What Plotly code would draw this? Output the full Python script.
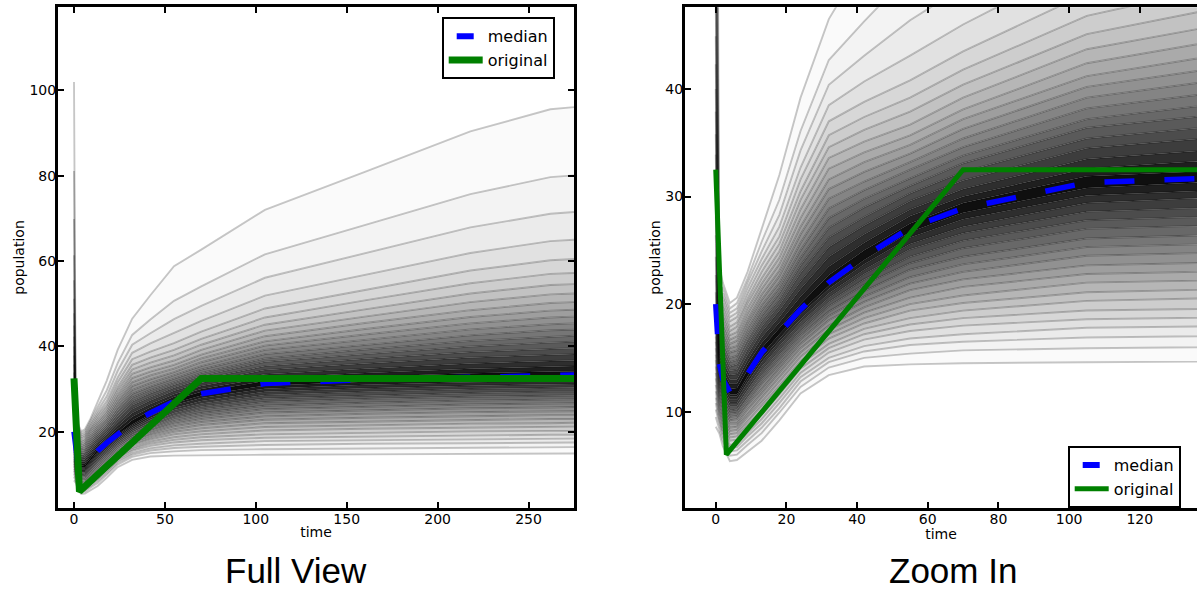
import plotly.graph_objects as go

# ---------------- data ----------------
time_pts = [0, 1, 2, 4, 6, 9, 13, 18, 24, 32, 42, 55, 70, 105, 160, 218, 262, 275]

median_pop = [20.0, 14.5, 13.0, 11.8, 11.8, 13.5, 15.5, 17.4, 19.5, 22.0,
              24.4, 27.1, 28.9, 31.3, 32.2, 32.9, 33.2, 33.3]

# quantile curves above the median (one row per time point, inner -> outer)
upper_q = [
    [21.1, 22.7, 24.4, 26.4, 28.2, 30.2, 32.0, 33.9, 35.8, 37.9, 40.0, 42.3, 44.9, 47.8, 51.2, 55.5, 61.4, 69.9, 81.1, 102.0],
    [14.6, 14.8, 15.0, 15.2, 15.4, 15.6, 15.8, 16.0, 16.2, 16.5, 16.7, 17.0, 17.2, 17.6, 17.9, 18.4, 19.0, 20.0, 21.2, 23.5],
    [13.4, 13.8, 14.3, 14.7, 15.2, 15.6, 16.1, 16.5, 17.0, 17.4, 17.9, 18.3, 18.8, 19.2, 19.7, 20.1, 20.6, 21.0, 21.5, 22.0],
    [12.1, 12.6, 13.0, 13.4, 13.8, 14.2, 14.6, 15.0, 15.5, 15.9, 16.3, 16.7, 17.1, 17.5, 17.9, 18.4, 18.8, 19.2, 19.6, 20.1],
    [12.2, 12.6, 13.0, 13.5, 13.9, 14.4, 14.8, 15.2, 15.7, 16.1, 16.6, 17.0, 17.4, 17.9, 18.3, 18.8, 19.2, 19.6, 20.1, 20.6],
    [13.9, 14.4, 14.8, 15.3, 15.8, 16.3, 16.7, 17.2, 17.7, 18.2, 18.6, 19.1, 19.6, 20.1, 20.5, 21.0, 21.5, 22.0, 22.4, 23.0],
    [15.9, 16.4, 16.9, 17.4, 17.9, 18.4, 18.9, 19.4, 19.9, 20.4, 20.9, 21.4, 21.9, 22.4, 23.0, 23.6, 24.2, 24.9, 25.8, 27.0],
    [17.8, 18.3, 18.8, 19.4, 19.9, 20.4, 21.0, 21.5, 22.0, 22.6, 23.1, 23.7, 24.3, 24.9, 25.6, 26.3, 27.2, 28.3, 29.7, 32.0],
    [20.0, 20.7, 21.4, 22.1, 22.9, 23.6, 24.3, 25.0, 25.7, 26.5, 27.2, 28.0, 28.8, 29.7, 30.5, 31.6, 32.7, 34.3, 36.1, 39.2],
    [22.7, 23.5, 24.4, 25.3, 26.2, 27.1, 28.0, 28.9, 29.8, 30.7, 31.6, 32.6, 33.6, 34.6, 35.7, 37.0, 38.5, 40.4, 42.7, 46.5],
    [25.0, 25.7, 26.5, 27.3, 28.1, 29.0, 29.8, 30.6, 31.4, 32.3, 33.2, 34.1, 35.1, 36.2, 37.4, 38.8, 40.7, 43.1, 46.3, 52.0],
    [27.5, 28.2, 28.8, 29.6, 30.3, 31.0, 31.7, 32.5, 33.2, 34.0, 34.8, 35.7, 36.7, 37.9, 39.2, 40.8, 43.1, 46.4, 50.7, 58.8],
    [29.4, 30.0, 30.7, 31.5, 32.3, 33.1, 33.8, 34.6, 35.4, 36.3, 37.2, 38.1, 39.2, 40.4, 41.8, 43.5, 46.0, 49.5, 54.1, 62.7],
    [31.9, 32.6, 33.5, 34.5, 35.4, 36.4, 37.2, 38.2, 39.2, 40.2, 41.2, 42.4, 43.7, 45.1, 46.8, 48.9, 51.9, 56.1, 61.6, 72.0],
    [32.9, 33.8, 34.8, 36.0, 37.1, 38.2, 39.3, 40.4, 41.6, 42.8, 44.1, 45.5, 47.0, 48.7, 50.8, 53.3, 56.8, 61.8, 68.5, 80.9],
    [33.7, 34.8, 36.0, 37.4, 38.7, 40.0, 41.3, 42.6, 44.0, 45.4, 46.9, 48.5, 50.4, 52.4, 54.8, 57.8, 61.9, 67.9, 75.7, 90.4],
    [34.1, 35.3, 36.6, 38.1, 39.4, 40.9, 42.3, 43.8, 45.2, 46.8, 48.4, 50.2, 52.2, 54.4, 57.0, 60.2, 64.7, 71.1, 79.7, 95.6],
    [34.2, 35.4, 36.7, 38.2, 39.6, 41.1, 42.5, 43.9, 45.4, 47.0, 48.6, 50.4, 52.4, 54.6, 57.2, 60.5, 65.0, 71.5, 80.1, 96.1],
]

# quantile curves below the median (one row per time point, inner -> outer)
lower_q = [
    [19.7, 19.2, 18.7, 18.2, 17.6, 17.0, 16.5, 15.9, 15.3, 14.8, 14.2, 13.6, 13.1, 12.5, 11.9, 11.3, 10.8, 10.2, 9.5, 8.6],
    [14.3, 14.0, 13.8, 13.5, 13.1, 12.8, 12.5, 12.2, 11.8, 11.5, 11.2, 10.9, 10.5, 10.2, 9.9, 9.6, 9.2, 8.9, 8.5, 8.0],
    [12.8, 12.6, 12.3, 12.0, 11.7, 11.4, 11.1, 10.8, 10.5, 10.2, 9.8, 9.5, 9.2, 8.9, 8.6, 8.3, 8.0, 7.7, 7.3, 6.8],
    [11.6, 11.4, 11.1, 10.8, 10.5, 10.1, 9.8, 9.5, 9.2, 8.9, 8.5, 8.2, 7.9, 7.6, 7.3, 6.9, 6.6, 6.3, 5.9, 5.4],
    [11.6, 11.4, 11.1, 10.8, 10.5, 10.2, 9.9, 9.6, 9.3, 8.9, 8.6, 8.3, 8.0, 7.7, 7.4, 7.0, 6.7, 6.4, 6.0, 5.5],
    [13.3, 13.0, 12.7, 12.3, 12.0, 11.6, 11.3, 10.9, 10.6, 10.2, 9.8, 9.5, 9.1, 8.8, 8.4, 8.0, 7.7, 7.3, 6.9, 6.3],
    [15.3, 14.9, 14.6, 14.2, 13.8, 13.4, 13.0, 12.6, 12.1, 11.7, 11.3, 10.9, 10.5, 10.1, 9.7, 9.3, 8.9, 8.5, 8.0, 7.3],
    [17.2, 16.8, 16.5, 16.1, 15.7, 15.3, 14.9, 14.4, 14.0, 13.6, 13.2, 12.8, 12.4, 12.0, 11.6, 11.2, 10.8, 10.3, 9.9, 9.2],
    [19.3, 19.0, 18.6, 18.3, 17.9, 17.5, 17.1, 16.7, 16.3, 15.9, 15.5, 15.1, 14.7, 14.4, 14.0, 13.6, 13.2, 12.8, 12.3, 11.7],
    [21.7, 21.4, 21.0, 20.6, 20.2, 19.8, 19.3, 18.9, 18.5, 18.0, 17.6, 17.2, 16.8, 16.3, 15.9, 15.5, 15.0, 14.6, 14.1, 13.4],
    [24.1, 23.7, 23.2, 22.8, 22.3, 21.8, 21.2, 20.7, 20.2, 19.7, 19.2, 18.7, 18.2, 17.7, 17.2, 16.7, 16.1, 15.6, 15.0, 14.2],
    [26.7, 26.2, 25.6, 25.1, 24.4, 23.8, 23.2, 22.5, 21.9, 21.3, 20.6, 20.0, 19.4, 18.7, 18.1, 17.5, 16.8, 16.2, 15.4, 14.4],
    [28.5, 27.9, 27.2, 26.6, 25.9, 25.2, 24.4, 23.7, 23.0, 22.3, 21.6, 20.8, 20.1, 19.4, 18.7, 18.0, 17.2, 16.5, 15.7, 14.5],
    [30.8, 30.1, 29.4, 28.6, 27.8, 27.0, 26.1, 25.3, 24.5, 23.6, 22.8, 22.0, 21.1, 20.3, 19.4, 18.6, 17.8, 16.9, 15.9, 14.6],
    [31.7, 31.0, 30.2, 29.4, 28.5, 27.7, 26.8, 25.9, 25.0, 24.2, 23.3, 22.4, 21.5, 20.7, 19.8, 18.9, 18.0, 17.2, 16.1, 14.7],
    [32.4, 31.6, 30.8, 30.0, 29.1, 28.2, 27.3, 26.4, 25.5, 24.6, 23.7, 22.8, 21.9, 21.0, 20.1, 19.1, 18.2, 17.3, 16.3, 14.8],
    [32.7, 31.9, 31.1, 30.3, 29.4, 28.4, 27.5, 26.6, 25.7, 24.8, 23.9, 23.0, 22.0, 21.1, 20.2, 19.3, 18.4, 17.5, 16.4, 14.9],
    [32.8, 32.0, 31.2, 30.4, 29.4, 28.5, 27.6, 26.7, 25.8, 24.8, 23.9, 23.0, 22.1, 21.2, 20.2, 19.3, 18.4, 17.5, 16.4, 14.9],
]

orig_time = [0, 3, 70, 275]
orig_pop = [32.5, 6.0, 32.5, 32.5]

panel_titles = ["Full View", "Zoom In"]
x_ticks_full = [0, 50, 100, 150, 200, 250]
y_ticks_full = [20, 40, 60, 80, 100]
x_ticks_zoom = [0, 20, 40, 60, 80, 100, 120]
y_ticks_zoom = [10, 20, 30, 40]

# ---------------- build the curves ----------------
n_up = len(upper_q[0])
n_lo = len(lower_q[0])
curves = []
for k in range(n_lo - 1, -1, -1):
    curves.append([row[k] for row in lower_q])
for k in range(n_up):
    curves.append([row[k] for row in upper_q])
center = n_lo  # index of the band that contains the median

FONT = "DejaVu Sans"
fig = go.Figure()


def band_color(i):
    c = abs(i - center)
    frac = (n_up - c) / n_up
    dark = 0.94 * frac ** 1.3
    lv = int(round(255 * (1 - dark)))
    return f"rgb({lv},{lv},{lv})"


for (xa, ya, leg, gw) in [("x", "y", "legend", 7), ("x2", "y2", "legend2", 5)]:
    # filled bands
    for i, cv in enumerate(curves):
        fig.add_trace(go.Scatter(
            x=time_pts, y=cv, xaxis=xa, yaxis=ya, mode="lines",
            line=dict(width=0), fill="none" if i == 0 else "tonexty",
            fillcolor=band_color(i), showlegend=False, hoverinfo="skip"))
    # quantile lines (separate traces so that overlaps darken, as in the reference)
    for cv in curves:
        fig.add_trace(go.Scatter(
            x=time_pts, y=cv, xaxis=xa, yaxis=ya, mode="lines",
            line=dict(color="rgba(0,0,0,0.22)", width=1.9),
            showlegend=False, hoverinfo="skip"))
    # median
    fig.add_trace(go.Scatter(
        x=time_pts, y=median_pop, xaxis=xa, yaxis=ya, mode="lines",
        line=dict(color="#0000ff", width=5.5, dash="30px,30px"),
        name="median", showlegend=False))
    # legend entry for the median (short blue block)
    fig.add_trace(go.Scatter(
        x=[None], y=[None], xaxis=xa, yaxis=ya, mode="lines",
        line=dict(color="#0000ff", width=6, dash="0px,8px,17px,30px"),
        name="median", legend=leg, legendrank=1, showlegend=True))
    # original
    fig.add_trace(go.Scatter(
        x=orig_time, y=orig_pop, xaxis=xa, yaxis=ya, mode="lines",
        line=dict(color="#008000", width=gw),
        name="original", legend=leg, legendrank=2, showlegend=True))

axis_common = dict(
    showgrid=False, zeroline=False, showline=True, linecolor="black",
    linewidth=3, ticks="inside", ticklen=6, tickwidth=1.5,
    tickcolor="black", tickfont=dict(family=FONT, size=14, color="black"),
    ticklabelstandoff=-4,
)
title_font = dict(family=FONT, size=14, color="black")
legend_common = dict(xanchor="left", yanchor="top", bgcolor="white",
                     bordercolor="black", borderwidth=2, itemwidth=34,
                     traceorder="normal", tracegroupgap=0,
                     font=dict(family=FONT, size=16, color="black"))

fig.update_layout(
    width=1197, height=592,
    margin=dict(l=0, r=0, t=0, b=0),
    paper_bgcolor="white", plot_bgcolor="white",
    xaxis=dict(domain=[58 / 1197, 574 / 1197], range=[-8.8, 275],
               tickvals=x_ticks_full, anchor="y", mirror="ticks",
               title=dict(text="time", font=title_font, standoff=2),
               **axis_common),
    yaxis=dict(domain=[84.3 / 592, 584.7 / 592], range=[2.2, 119.5],
               tickvals=y_ticks_full, anchor="x", mirror="ticks",
               title=dict(text="population", font=title_font, standoff=2),
               **axis_common),
    xaxis2=dict(domain=[685 / 1197, 1.0], range=[-8.7, 136.2],
                tickvals=x_ticks_zoom, anchor="y2", mirror="ticks",
                title=dict(text="time", font=title_font, standoff=2),
                **axis_common),
    yaxis2=dict(domain=[84.3 / 592, 584.7 / 592], range=[1.07, 47.6],
                tickvals=y_ticks_zoom, anchor="x2", mirror=False,
                title=dict(text="population", font=title_font, standoff=2),
                **axis_common),
    legend=dict(x=441.7 / 1197, y=1 - 17.3 / 592, **legend_common),
    legend2=dict(x=1067.7 / 1197, y=1 - 446 / 592, **legend_common),
    annotations=[
        dict(text=panel_titles[0], x=296 / 1197, y=0, xref="paper", yref="paper",
             xanchor="center", yanchor="bottom", showarrow=False,
             font=dict(family="Liberation Sans", size=35, color="black")),
        dict(text=panel_titles[1], x=953 / 1197, y=0, xref="paper", yref="paper",
             xanchor="center", yanchor="bottom", showarrow=False,
             font=dict(family="Liberation Sans", size=35, color="black")),
    ],
    showlegend=True,
)

fig.write_html("out.html")
